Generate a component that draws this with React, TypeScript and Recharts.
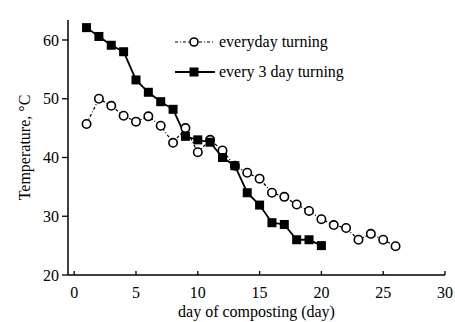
import React from 'react';
import { LineChart, Line, XAxis, YAxis } from 'recharts';

const days = [1, 2, 3, 4, 5, 6, 7, 8, 9, 10, 11, 12, 13, 14, 15, 16, 17, 18, 19, 20, 21, 22, 23, 24, 25, 26];
const everyday = [45.7, 50.0, 48.8, 47.1, 46.1, 47.0, 45.4, 42.5, 45.0, 40.9, 43.0, 41.2, 38.6, 37.4, 36.4, 34.0, 33.3, 32.0, 30.9, 29.5, 28.5, 28.0, 26.0, 27.0, 26.0, 24.9];
const every3 = [62.1, 60.6, 59.1, 58.0, 53.2, 51.1, 49.5, 48.2, 43.6, 43.0, 42.6, 40.0, 38.6, 34.0, 31.9, 28.9, 28.6, 26.0, 26.0, 25.0];
const xTicks = [0, 5, 10, 15, 20, 25, 30];
const yTicks = [20, 30, 40, 50, 60];
const seriesNames = ['everyday turning', 'every 3 day turning'];

const data = days.map((d, i) => ({
  day: d,
  everyday: everyday[i],
  every3: i < every3.length ? every3[i] : null,
}));

const FONT = '"Liberation Serif", "DejaVu Serif", serif';

const OpenDot = (p: any) => {
  if (p.cy == null) return <g key={p.index} />;
  return <circle key={p.index} cx={p.cx} cy={p.cy} r={4.2} fill="#fff" stroke="#000" strokeWidth={1.6} />;
};

const SquareDot = (p: any) => {
  if (p.cy == null) return <g key={p.index} />;
  return <rect key={p.index} x={p.cx - 4.5} y={p.cy - 4.5} width={9} height={9} fill="#000" />;
};

const XTick = (p: any) => (
  <g>
    <line x1={p.x} y1={p.y} x2={p.x} y2={p.y - 4} stroke="#000" strokeWidth={1.3} />
    <text x={p.x} y={p.y + 23} textAnchor="middle" fontSize={16} fontFamily={FONT} fill="#000">
      {p.payload.value}
    </text>
  </g>
);

// legend drawn as an overlay so it does not take room from the plot
const LegendBox = () => (
  <svg width={200} height={56} style={{ position: 'absolute', left: 169, top: 30, fontFamily: FONT, overflow: 'visible' }}>
    <line x1={6} y1={12} x2={46} y2={12} stroke="#000" strokeWidth={1.2} strokeDasharray="3 2 1 2" />
    <circle cx={25} cy={12} r={4} fill="#fff" stroke="#000" strokeWidth={1.6} />
    <text x={50} y={17} fontSize={16} fill="#000">{seriesNames[0]}</text>
    <line x1={6} y1={42} x2={46} y2={42} stroke="#000" strokeWidth={1.8} />
    <rect x={20.5} y={37.5} width={9} height={9} fill="#000" />
    <text x={50} y={47} fontSize={16} fill="#000">{seriesNames[1]}</text>
  </svg>
);

export default function App() {
  return (
    <div style={{ position: 'absolute', left: 0, top: 0, width: 455, height: 322, background: '#fff' }}>
      <LineChart width={455} height={322} data={data} margin={{ top: 20, right: 10, bottom: 0, left: 0 }}
        style={{ fontFamily: FONT }}>
        <XAxis dataKey="day" type="number" domain={[-0.5, 30]} ticks={xTicks} height={47}
          axisLine={{ stroke: '#000', strokeWidth: 1.5 }} tickLine={false} tickSize={0} tickMargin={0}
          tick={<XTick />} allowDataOverflow
          label={{ value: 'day of composting (day)', position: 'center', dy: 13, fontSize: 16, fill: '#000', fontFamily: FONT }} />
        <YAxis type="number" domain={[20, 63.4]} ticks={yTicks} width={68} allowDataOverflow
          axisLine={{ stroke: '#000', strokeWidth: 1.5 }} tickLine={{ stroke: '#000', strokeWidth: 1.3 }}
          tickSize={6} tickMargin={3} tick={{ fontSize: 16, fill: '#000', fontFamily: FONT }}
          label={{ value: 'Temperature, °C', angle: -90, position: 'center', dx: -10, fontSize: 16, fill: '#000', fontFamily: FONT }} />
        <Line dataKey="everyday" name={seriesNames[0]} stroke="#000" strokeWidth={1.2} strokeDasharray="3 2 1 2"
          dot={<OpenDot />} activeDot={false} isAnimationActive={false} />
        <Line dataKey="every3" name={seriesNames[1]} stroke="#000" strokeWidth={1.8}
          dot={<SquareDot />} activeDot={false} isAnimationActive={false} />
      </LineChart>
      <LegendBox />
    </div>
  );
}
